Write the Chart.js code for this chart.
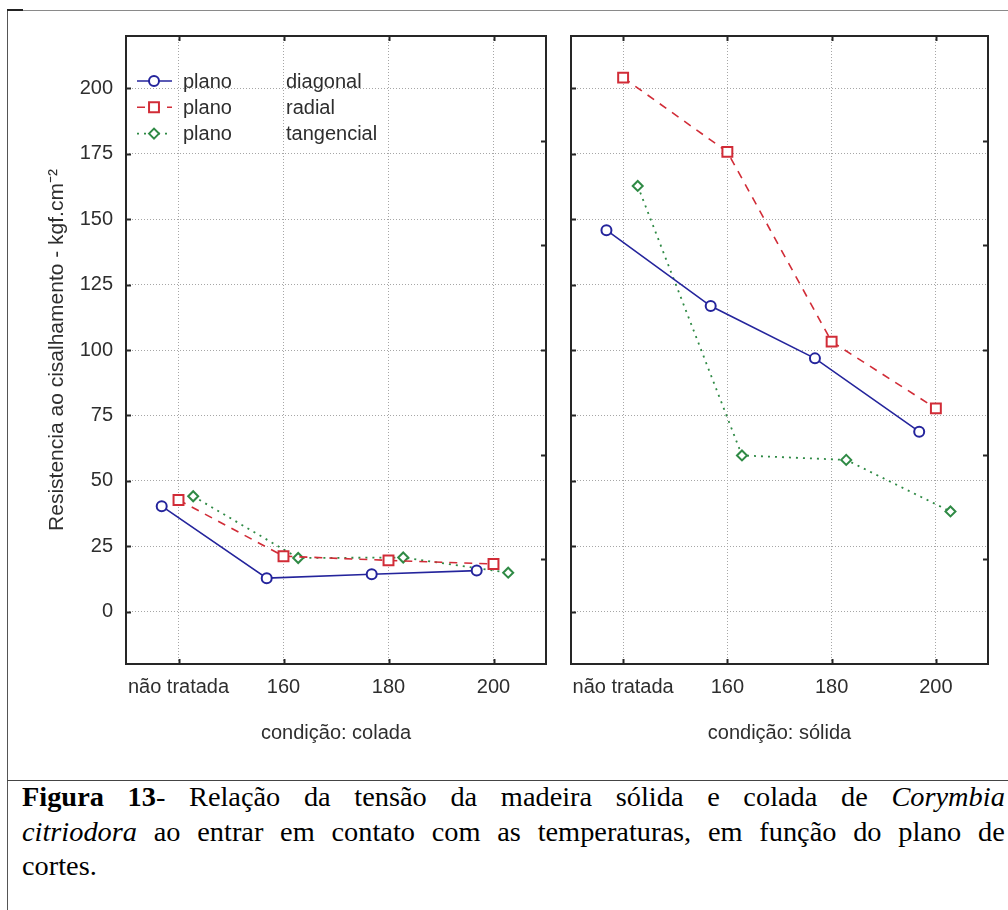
<!DOCTYPE html>
<html lang="pt">
<head>
<meta charset="UTF-8">
<title>Figura 13</title>
<script src="https://cdn.jsdelivr.net/npm/chart.js@4.4.1/dist/chart.umd.min.js"></script>
<style>
  body { margin: 0; background: #fff; width: 1008px; height: 910px; overflow: hidden; position: relative; }
  #frame { position: absolute; left: 7px; top: 10px; width: 1020px; height: 920px; border-left: 1px solid #555; border-top: 1px solid #8a8a8a; }
  #corner { position: absolute; left: 7px; top: 9px; width: 16px; height: 2px; background: #222; }
  #divider { position: absolute; left: 7px; top: 780px; width: 1020px; border-top: 1px solid #444; }
  #left { position: absolute; left: 0; top: 0; }
  #right { position: absolute; left: 558px; top: 0; }
  #caption { position: absolute; left: 22px; top: 780px; width: 936px; transform: scaleX(1.05); transform-origin: left top;
             font-family: "Liberation Serif", "Times New Roman", serif; font-size: 27px; line-height: 34.5px; color: #000; }
  #caption .ln { text-align: justify; text-align-last: justify; }
  #caption .last { text-align: left; }
</style>
</head>
<body>
<div id="frame"></div>
<div id="corner"></div>
<div id="divider"></div>
<canvas id="left" width="558" height="780"></canvas>
<canvas id="right" width="450" height="780"></canvas>
<div id="caption">
  <div class="ln"><b>Figura 13</b>- Relação da tensão da madeira sólida e colada de <i>Corymbia</i></div>
  <div class="ln"><i>citriodora</i> ao entrar em contato com as temperaturas, em função do plano de</div>
  <div class="last">cortes.</div>
</div>
<script>
// categorias do eixo x e valores
const categories = ['não tratada', '160', '180', '200'];
const xTickValues = [0, 1, 2, 3];
const yTickValues = [0, 25, 50, 75, 100, 125, 150, 175, 200];
const rightTickValues = [20, 60, 100, 140, 180];
const planeWord = 'plano';
const seriesNames = ['diagonal', 'radial', 'tangencial'];

// condição: colada
const coladaDiagonal = [40.3, 12.8, 14.3, 15.7];
const coladaRadial = [42.7, 21.2, 19.6, 18.2];
const coladaTangencial = [44.1, 20.5, 20.7, 14.9];
// condição: sólida
const solidaDiagonal = [145.8, 116.8, 96.8, 68.8];
const solidaRadial = [204.1, 175.7, 103.2, 77.7];
const solidaTangencial = [162.7, 59.7, 58.0, 38.3];

// estilos de cada serie (deslocamento horizontal tipo Statistica)
const seriesStyle = [
  { color: '#24249c', dash: [], point: 'circle', radius: 5, width: 1.6, offset: -0.16 },
  { color: '#d12c37', dash: [8, 7], point: 'rect', radius: 7, width: 1.6, offset: 0 },
  { color: '#2f8a45', dash: [2, 5], point: 'rectRot', radius: 5, width: 1.8, offset: 0.14 }
];

const textColor = '#2e2e2e';
const sans = '"Liberation Sans", Arial, sans-serif';

function makeDatasets(series) {
  return series.map(function (vals, i) {
    const st = seriesStyle[i];
    return {
      label: planeWord + ' ' + seriesNames[i],
      data: vals.map(function (v, k) { return { x: xTickValues[k] + st.offset, y: v }; }),
      borderColor: st.color,
      borderWidth: st.width,
      borderDash: st.dash,
      pointStyle: st.point,
      pointRadius: st.radius,
      pointBorderWidth: 2,
      pointBorderColor: st.color,
      pointBackgroundColor: '#ffffff',
      tension: 0,
      fill: false
    };
  });
}

// moldura + marcas de escala para dentro
const framePlugin = {
  id: 'frame',
  afterDraw(chart) {
    const ctx = chart.ctx, a = chart.chartArea, x = chart.scales.x, y = chart.scales.y;
    ctx.save();
    ctx.strokeStyle = '#262626';
    ctx.lineWidth = 2;
    ctx.setLineDash([]);
    ctx.strokeRect(a.left, a.top, a.right - a.left, a.bottom - a.top);
    ctx.beginPath();
    yTickValues.forEach(function (v) {
      const py = Math.round(y.getPixelForValue(v)) + 0.5;
      ctx.moveTo(a.left, py); ctx.lineTo(a.left + 5, py);
    });
    rightTickValues.forEach(function (v) {
      const py = Math.round(y.getPixelForValue(v)) + 0.5;
      ctx.moveTo(a.right, py); ctx.lineTo(a.right - 5, py);
    });
    xTickValues.forEach(function (v) {
      const px = Math.round(x.getPixelForValue(v)) + 0.5;
      ctx.moveTo(px, a.bottom); ctx.lineTo(px, a.bottom - 5);
      ctx.moveTo(px, a.top); ctx.lineTo(px, a.top + 5);
    });
    ctx.stroke();
    ctx.restore();
  }
};

// legenda dentro da area do grafico (so no painel esquerdo)
const legendPlugin = {
  id: 'insideLegend',
  afterDraw(chart) {
    const ctx = chart.ctx, a = chart.chartArea;
    ctx.save();
    chart.data.datasets.forEach(function (ds, i) {
      const yy = a.top + 45 + i * 26.3;
      const x0 = a.left + 11, x1 = a.left + 46, xm = a.left + 28;
      ctx.strokeStyle = ds.borderColor;
      ctx.lineWidth = ds.borderWidth;
      ctx.setLineDash(ds.borderDash);
      ctx.beginPath();
      ctx.moveTo(x0, yy); ctx.lineTo(x1, yy);
      ctx.stroke();
      ctx.setLineDash([]);
      ctx.fillStyle = '#ffffff';
      ctx.lineWidth = 2;
      Chart.helpers.drawPoint(ctx, { pointStyle: ds.pointStyle, radius: ds.pointRadius, rotation: 0, borderWidth: 2 }, xm, yy);
      ctx.fillStyle = textColor;
      ctx.font = '20px ' + sans;
      ctx.textBaseline = 'middle';
      ctx.fillText(planeWord, a.left + 57, yy + 1);
      ctx.fillText(seriesNames[i], a.left + 160, yy + 1);
    });
    ctx.restore();
  }
};

function makeOptions(xTitle, yTitle, yWidth, rightPad) {
  return {
    responsive: false,
    animation: false,
    devicePixelRatio: 1,
    layout: { padding: { top: 36, right: rightPad, left: 0, bottom: 0 } },
    plugins: { legend: { display: false }, tooltip: { enabled: false } },
    scales: {
      x: {
        type: 'linear', min: -0.5, max: 3.5,
        afterBuildTicks: function (s) { s.ticks = xTickValues.map(function (v) { return { value: v }; }); },
        afterFit: function (s) { s.height = 116; },
        ticks: {
          autoSkip: false, maxRotation: 0, padding: 11, color: textColor,
          font: { family: sans, size: 20 },
          callback: function (v) { return categories[v]; }
        },
        grid: { color: '#a6a6a6', lineWidth: 1, drawTicks: false },
        border: { display: false, dash: [1, 2] },
        title: { display: true, text: xTitle, color: textColor, font: { family: sans, size: 20 }, padding: { top: 0, bottom: 35 } }
      },
      y: {
        type: 'linear', min: -20, max: 220,
        afterBuildTicks: function (s) { s.ticks = yTickValues.map(function (v) { return { value: v }; }); },
        afterFit: function (s) { s.width = yWidth; },
        ticks: { display: yTitle !== null, padding: 13, color: textColor, font: { family: sans, size: 20 } },
        grid: { color: '#a6a6a6', lineWidth: 1, drawTicks: false },
        border: { display: false, dash: [1, 2] },
        title: { display: yTitle !== null, text: yTitle || '', color: textColor, font: { family: sans, size: 21 }, padding: { top: 45, bottom: 0 } }
      }
    }
  };
}

new Chart(document.getElementById('left'), {
  type: 'line',
  data: { datasets: makeDatasets([coladaDiagonal, coladaRadial, coladaTangencial]) },
  options: makeOptions('condição: colada', 'Resistencia ao cisalhamento - kgf.cm⁻²', 126, 12),
  plugins: [framePlugin, legendPlugin]
});

new Chart(document.getElementById('right'), {
  type: 'line',
  data: { datasets: makeDatasets([solidaDiagonal, solidaRadial, solidaTangencial]) },
  options: makeOptions('condição: sólida', null, 13, 20),
  plugins: [framePlugin]
});
</script>
</body>
</html>
